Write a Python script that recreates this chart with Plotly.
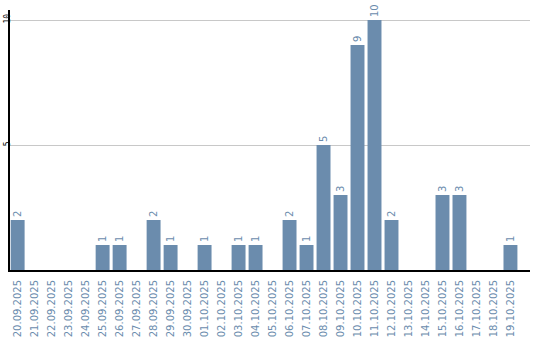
import plotly.graph_objects as go

dates = ["20.09.2025","21.09.2025","22.09.2025","23.09.2025","24.09.2025","25.09.2025",
         "26.09.2025","27.09.2025","28.09.2025","29.09.2025","30.09.2025","01.10.2025",
         "02.10.2025","03.10.2025","04.10.2025","05.10.2025","06.10.2025","07.10.2025",
         "08.10.2025","09.10.2025","10.10.2025","11.10.2025","12.10.2025","13.10.2025",
         "14.10.2025","15.10.2025","16.10.2025","17.10.2025","18.10.2025","19.10.2025"]
counts = [2,0,0,0,0,1,1,0,2,1,0,1,0,1,1,0,2,1,5,3,9,10,2,0,0,3,3,0,0,1]

bar_color = "#6b8cad"
labels = [str(v) if v else "" for v in counts]

fig = go.Figure(go.Bar(
    x=list(range(len(dates))), y=counts,
    marker=dict(color=bar_color, line=dict(width=0)),
    text=labels, textposition="outside", textangle=-90,
    textfont=dict(color=bar_color, size=10, family="DejaVu Sans"),
    cliponaxis=False,
))

fig.update_layout(
    width=540, height=340,
    margin=dict(l=10, r=10, t=10, b=70),
    paper_bgcolor="white", plot_bgcolor="white",
    bargap=0.18, showlegend=False,
    font=dict(family="DejaVu Sans"),
)
fig.update_xaxes(
    tickmode="array", tickvals=list(range(len(dates))), ticktext=dates,
    tickangle=-90, tickfont=dict(color=bar_color, size=10, family="DejaVu Sans"),
    range=[-0.45, 30.15], showgrid=False, automargin=False,
    showline=True, linecolor="black", linewidth=2,
    ticks="outside", ticklen=4, tickcolor="rgba(0,0,0,0)",
)
fig.update_yaxes(
    range=[0, 10.4], tickvals=[5, 10], ticktext=["5", "10"], automargin=False,
    tickangle=-90, tickfont=dict(color="black", size=8, family="DejaVu Sans Mono"),
    ticklabelstandoff=-5,
    showgrid=True, gridcolor="#c8c8c8", gridwidth=1,
    showline=True, linecolor="black", linewidth=2, zeroline=False,
    ticks="", ticklen=0,
)

fig.write_html("out.html")
